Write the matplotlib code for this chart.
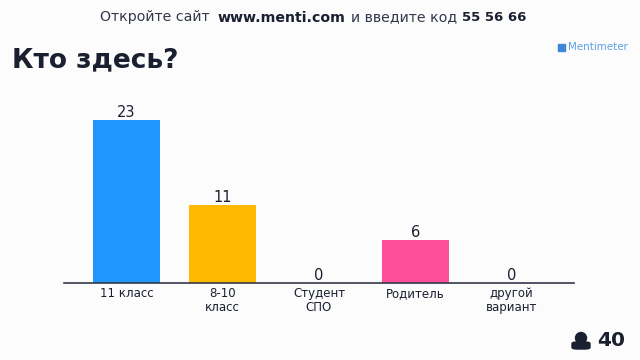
import matplotlib
matplotlib.use("Agg")
import matplotlib.pyplot as plt
from matplotlib.patches import Rectangle, Ellipse, FancyBboxPatch

categories = ["11 класс", "8-10\nкласс", "Студент\nСПО", "Родитель", "другой\nвариант"]
values = [23, 11, 0, 6, 0]
colors = ["#1E96FC", "#FFB900", "#1E96FC", "#FF4F9A", "#1E96FC"]

W, H = 640, 360
INK = "#1b2030"
plt.rcParams['font.family'] = ['DejaVu Sans']
fig = plt.figure(figsize=(W/100, H/100), dpi=100, facecolor="#FCFCFC")
ax = fig.add_axes([64/W, 1-283/H, (574-64)/W, (283-110)/H])
ax.set_facecolor("none")
x = list(range(len(values)))
ax.bar(x, values, width=0.696, color=colors)
ax.set_xlim(-0.65, 4.65)
ax.set_ylim(0, 23*173/163)
for s in ("top", "left", "right"):
    ax.spines[s].set_visible(False)
ax.spines["bottom"].set_color("#33384a")
ax.spines["bottom"].set_linewidth(1.2)
ax.set_yticks([])
ax.set_xticks(x)
ax.set_xticklabels(categories, fontsize=8.5, color=INK, linespacing=1.1)
ax.tick_params(axis="x", length=0, pad=3)
for xi, v in zip(x, values):
    ax.annotate(str(v), (xi, v), xytext=(0, 0), textcoords="offset points",
                ha="center", va="bottom", fontsize=10.5, color=INK)

fig.text(100/W, 1-17.5/H, "Откройте сайт", va="center", fontsize=10.2, color="#33384a")
fig.text(218/W, 1-17.5/H, "www.menti.com", va="center", fontsize=10.2, fontweight="bold", color=INK)
fig.text(351/W, 1-17.5/H, "и введите код", va="center", fontsize=10.2, color="#33384a")
fig.text(462/W, 1-17.5/H, "55 56 66", va="center", fontsize=9.5, fontweight="bold", color=INK)
fig.text(12/W, 1-60/H, "Кто здесь?", ha="left", va="center", fontsize=19, fontweight="bold", color=INK)
fig.text(568/W, 1-47.5/H, "Mentimeter", ha="left", va="center", fontsize=7.4, color="#5b9fe6")
fig.add_artist(Rectangle((557.5/W, 1-51/H), 7/W, 7/H, transform=fig.transFigure, color="#3f86d8"))
fig.text(597/W, 1-340/H, "40", ha="left", va="center", fontsize=14.5, fontweight="bold", color=INK)

# person icon (no installed font has this glyph)
fig.add_artist(Ellipse((581/W, 1-338/H), 11/W, 11/H, transform=fig.transFigure, color=INK))
fig.add_artist(FancyBboxPatch((572/W, 1-349/H), 18/W, 7/H, boxstyle="round,pad=0,rounding_size=0.008",
                              transform=fig.transFigure, color=INK, mutation_aspect=H/W))
fig.savefig("out.png", dpi=100, facecolor=fig.get_facecolor())
